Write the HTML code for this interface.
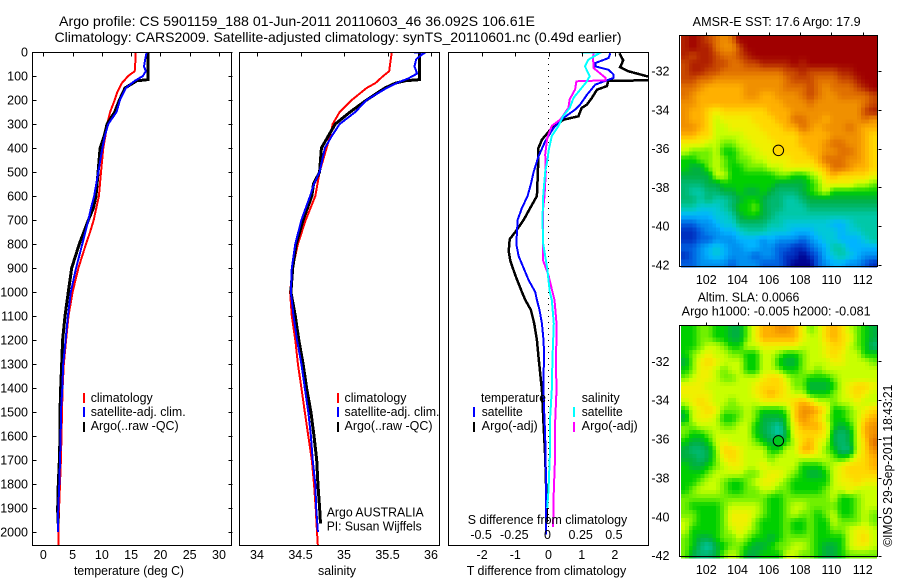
<!DOCTYPE html>
<html>
<head>
<meta charset="utf-8">
<title>Argo profile</title>
<style>
html,body{margin:0;padding:0;background:#fff;width:900px;height:580px;overflow:hidden}
svg{display:block}
text{font-family:"Liberation Sans",sans-serif;font-size:12.5px;fill:#000}
.t{font-size:14px}
</style>
</head>
<body>
<svg id="fig" xmlns="http://www.w3.org/2000/svg" width="900" height="580" viewBox="0 0 900 580">
<defs>
<clipPath id="c1"><rect x="32" y="52" width="200" height="494"/></clipPath>
<clipPath id="c2"><rect x="239" y="52" width="201" height="494"/></clipPath>
<clipPath id="c3"><rect x="448" y="52" width="201" height="494"/></clipPath>
</defs>
<text class="t" x="59" y="26" textLength="476" lengthAdjust="spacingAndGlyphs">Argo profile: CS 5901159_188 01-Jun-2011 20110603_46 36.092S 106.61E</text>
<text class="t" x="54.5" y="42" textLength="567" lengthAdjust="spacingAndGlyphs">Climatology: CARS2009. Satellite-adjusted climatology: synTS_20110601.nc (0.49d earlier)</text>
<g id="layerMaps"></g>
<g id="layerLines"></g>
<g id="layerAxes"></g>

<text x="74" y="575" textLength="110" lengthAdjust="spacingAndGlyphs">temperature (deg C)</text>
<text x="318" y="575" textLength="38" lengthAdjust="spacingAndGlyphs">salinity</text>
<text x="466.7" y="575" textLength="159.5" lengthAdjust="spacingAndGlyphs">T difference from climatology</text>
<text x="467.7" y="524" textLength="159.5" lengthAdjust="spacingAndGlyphs">S difference from climatology</text>

<g>
<rect x="83" y="393" width="2" height="10" fill="#f00"/>
<rect x="83" y="407" width="2" height="10" fill="#00f"/>
<rect x="83" y="422" width="2" height="10" fill="#000"/>
<text x="90.7" y="402" textLength="62" lengthAdjust="spacingAndGlyphs">climatology</text>
<text x="90.7" y="416" textLength="95" lengthAdjust="spacingAndGlyphs">satellite-adj. clim.</text>
<text x="90.7" y="430" textLength="88" lengthAdjust="spacingAndGlyphs">Argo(..raw -QC)</text>
</g>
<g>
<rect x="337" y="393" width="2" height="10" fill="#f00"/>
<rect x="337" y="407" width="2" height="10" fill="#00f"/>
<rect x="337" y="422" width="2" height="10" fill="#000"/>
<text x="344.5" y="402" textLength="62" lengthAdjust="spacingAndGlyphs">climatology</text>
<text x="344.5" y="416" textLength="95" lengthAdjust="spacingAndGlyphs">satellite-adj. clim.</text>
<text x="344.5" y="430" textLength="88" lengthAdjust="spacingAndGlyphs">Argo(..raw -QC)</text>
<text x="326.7" y="516.7" textLength="97" lengthAdjust="spacingAndGlyphs">Argo AUSTRALIA</text>
<text x="326.7" y="530.7" textLength="95" lengthAdjust="spacingAndGlyphs">PI: Susan Wijffels</text>
</g>
<g>
<text x="481" y="402" textLength="65" lengthAdjust="spacingAndGlyphs">temperature</text>
<rect x="473" y="407" width="2" height="10" fill="#00f"/>
<rect x="473" y="422" width="2" height="10" fill="#000"/>
<text x="481.7" y="416" textLength="41" lengthAdjust="spacingAndGlyphs">satellite</text>
<text x="481.7" y="430" textLength="56" lengthAdjust="spacingAndGlyphs">Argo(-adj)</text>
<text x="581.7" y="402" textLength="38" lengthAdjust="spacingAndGlyphs">salinity</text>
<rect x="573" y="407" width="2" height="10" fill="#0ff"/>
<rect x="573" y="422" width="2" height="10" fill="#f0f"/>
<text x="581.7" y="416" textLength="41" lengthAdjust="spacingAndGlyphs">satellite</text>
<text x="581.7" y="430" textLength="56" lengthAdjust="spacingAndGlyphs">Argo(-adj)</text>
</g>

<text x="692.7" y="26" textLength="168" lengthAdjust="spacingAndGlyphs">AMSR-E SST: 17.6 Argo: 17.9</text>
<text x="697.7" y="301.7" textLength="101.6" lengthAdjust="spacingAndGlyphs">Altim. SLA: 0.0066</text>
<text x="681.7" y="315.7" textLength="189" lengthAdjust="spacingAndGlyphs">Argo h1000: -0.005 h2000: -0.081</text>
<text transform="translate(892,546.7) rotate(-90)" textLength="162" lengthAdjust="spacingAndGlyphs">©IMOS 29-Sep-2011 18:43:21</text>
</svg>

<script>
// ---- axis tick values ----
var depthTicks = [0,100,200,300,400,500,600,700,800,900,1000,1100,1200,1300,1400,1500,1600,1700,1800,1900,2000];
var tempTicks = [0,5,10,15,20,25,30];
var salTicks = [34,34.5,35,35.5,36];
var salTickLabels = ["34","34.5","35","35.5","36"];
var dTTicks = [-2,-1,0,1,2];
var dTTickLabels = ["-2","-1","0","1","2"];
var dSTicks = [-0.5,-0.25,0,0.25,0.5];
var dSTickLabels = ["-0.5","-0.25","0","0.25","0.5"];
var lonTicks = [102,104,106,108,110,112];
var latTicks = [-32,-34,-36,-38,-40,-42];

// ---- temperature profiles ----
var tClimDepth = [0,50,80,100,130,170,200,250,300,350,400,500,600,700,750,800,900,1000,1100,1200,1300,1400,1500,1600,1700,1800,1900,2000,2060];
var tClimValue = [15.8,15.7,15.6,14.5,13.4,12.6,12.2,11.4,10.9,10.6,10.25,9.85,9.5,8.6,8,7.3,6,5,4.3,3.9,3.5,3.3,3.2,3.1,3.0,2.85,2.7,2.56,2.56];
var tArgoDepth = [0,115,120,150,200,250,300,350,400,500,600,650,700,800,900,1000,1100,1200,1300,1400,1500,1600,1700,1800,1900,1965];
var tArgoValue = [17.9,17.9,15.95,13.95,13,12.2,10.9,10.4,9.7,9.35,9.0,8.55,7.7,6.15,4.85,4.27,3.7,3.3,3.14,2.97,2.85,2.85,2.75,2.56,2.46,2.5];
var tSatDepth = [0,30,60,80,100,120,150,200,250,300,350,400,500,600,650,700,800,900,1000,1100,1200,1300,1400,1500,1600,1700,1800,1900,2000];
var tSatValue = [17.65,17.4,17.2,17.5,17,15.65,14.1,13.1,12.5,11.1,10.5,10.1,9.4,8.7,8.15,7.7,6.66,5.6,4.7,4.2,3.8,3.4,3.25,3.0,2.97,2.85,2.73,2.56,2.5];

// ---- salinity profiles ----
var sClimDepth = [0,50,80,100,130,150,200,250,300,350,400,500,600,700,800,900,1000,1100,1200,1300,1400,1500,1600,1700,1800,1900,2000,2060];
var sClimValue = [35.55,35.53,35.52,35.45,35.36,35.26,35.09,34.95,34.87,34.84,34.80,34.72,34.67,34.56,34.47,34.41,34.38,34.40,34.44,34.47,34.51,34.55,34.59,34.63,34.655,34.675,34.69,34.70];
var sArgoDepth = [0,115,120,130,150,200,250,300,350,400,500,550,600,700,800,900,1000,1100,1200,1300,1400,1500,1600,1700,1800,1900,1965];
var sArgoValue = [35.87,35.87,35.70,35.59,35.47,35.26,35.07,34.90,34.82,34.74,34.72,34.65,34.63,34.53,34.45,34.41,34.39,34.44,34.48,34.53,34.57,34.62,34.655,34.686,34.70,34.72,34.73];
var sSatDepth = [0,3,10,30,60,90,110,130,150,200,250,300,350,400,500,550,600,700,800,900,1000,1100,1200,1300,1400,1500,1600,1700,1800,1900,2000];
var sSatValue = [35.73,35.93,35.9,35.83,35.81,35.84,35.74,35.6,35.49,35.26,35.13,34.95,34.86,34.78,34.72,34.655,34.61,34.51,34.44,34.40,34.39,34.42,34.46,34.51,34.55,34.59,34.62,34.64,34.67,34.68,34.70];

// ---- difference profiles (T in deg C, S in psu) ----
var dTArgoDepth = [5,35,63,80,101,105,117,120,142,157,192,220,233,268,282,317,365,400,500,600,650,700,750,780,830,870,930,1000,1033,1075,1131,1200,1270,1339,1408,1547,1686,1825,1960];
var dTArgoValue = [2.14,2.25,2.16,2.4,2.96,3.6,3.6,1.8,1.76,1.46,1.3,1.15,1.0,0.9,0.45,0.1,-0.2,-0.3,-0.32,-0.35,-0.55,-0.75,-1.0,-1.17,-1.2,-1.15,-1.0,-0.8,-0.7,-0.53,-0.43,-0.35,-0.3,-0.25,-0.2,-0.15,-0.1,-0.07,-0.05];
var dTSatDepth = [5,25,46,60,74,94,108,136,178,220,240,275,317,372,435,500,550,600,650,700,750,800,850,900,950,1000,1033,1075,1130,1200,1270,1340,1410,1500,1600,1700,1800,1900,2010];
var dTSatValue = [1.86,1.81,1.41,1.41,1.81,1.96,1.96,1.41,1.16,0.95,0.8,0.45,0.15,-0.1,-0.3,-0.45,-0.53,-0.63,-0.8,-0.93,-0.95,-0.97,-0.9,-0.75,-0.6,-0.4,-0.35,-0.27,-0.2,-0.15,-0.13,-0.15,-0.15,-0.13,-0.1,-0.09,-0.07,-0.07,-0.08];
var dSArgoDepth = [0,25,67,108,118,122,156,197,233,281,308,358,427,500,600,650,700,800,870,930,1000,1033,1131,1200,1270,1408,1547,1686,1825,1980];
var dSArgoValue = [0.34,0.335,0.34,0.43,0.43,0.21,0.2,0.16,0.15,0.09,0.025,-0.01,-0.025,-0.02,-0.03,-0.04,-0.04,-0.04,-0.04,0,0.03,0.045,0.06,0.06,0.055,0.06,0.05,0.05,0.04,0.035];
var dSSatDepth = [0,3,32,60,101,122,156,190,233,267,308,350,413,440,500,600,700,800,900,1000,1033,1131,1270,1408,1547,1686,1825,1900];
var dSSatValue = [0.16,0.39,0.3,0.275,0.31,0.29,0.24,0.19,0.16,0.11,0.075,0.025,0,-0.005,-0.025,-0.04,-0.045,-0.04,-0.01,0.01,0.025,0.04,0.03,0.025,0.01,0.01,0,-0.01];

// ---- map point ----
var argoLon = 106.61;
var argoLat = -36.092;

// ---- map colour levels, one row per latitude band, north to south ----
var sstGrid = [
[18,19,18,17,16,15,16,19,19,19,19,19,19,19,19,19,19,19,19,19,19,19,19,19,19],
[18,19,18,18,16,15,15,17,19,19,19,19,19,19,19,19,19,19,19,19,19,19,19,19,19],
[18,17,18,18,17,16,16,17,18,19,19,19,19,19,19,19,19,19,19,19,19,19,19,19,19],
[17,18,18,18,17,17,16,16,17,17,18,18,18,18,19,18,19,19,19,19,19,19,19,19,19],
[17,18,18,17,17,16,16,16,16,16,16,16,16,17,17,18,17,17,17,17,18,18,19,19,19],
[17,17,16,16,15,15,15,15,15,15,15,15,15,16,17,17,17,16,16,16,17,17,18,19,19],
[16,16,15,14,14,14,14,14,15,15,15,15,15,16,16,16,17,16,15,16,16,16,17,18,19],
[16,15,14,14,14,14,14,14,15,15,14,14,15,15,15,16,17,16,15,15,16,16,16,16,17],
[15,15,14,14,14,14,14,14,14,14,14,14,14,15,15,15,16,15,15,15,15,15,15,16,17],
[15,14,14,13,12,13,13,13,13,13,13,14,14,14,15,15,15,15,15,15,15,15,15,17,18],
[15,14,14,13,11,12,12,12,12,13,13,13,14,14,16,16,15,15,14,15,15,15,15,16,15],
[15,15,14,13,11,11,12,12,12,12,13,13,13,14,14,16,15,14,15,15,15,16,15,14,14],
[14,14,13,13,11,11,11,11,12,12,12,13,13,13,13,14,14,14,14,15,15,15,15,14,13],
[12,12,12,11,11,10,10,11,11,12,12,12,13,13,13,14,14,14,15,16,16,15,15,14,13],
[11,10,10,10,11,9,9,10,11,11,12,12,13,13,13,13,14,14,15,15,16,16,15,14,13],
[9,9,10,10,11,10,9,10,10,11,11,12,12,12,13,13,13,14,16,16,16,15,15,14,13],
[9,8,8,10,11,10,9,9,10,10,10,11,11,12,12,12,12,13,14,16,16,15,14,14,13],
[8,8,8,8,11,11,9,9,9,9,9,9,10,10,9,9,10,11,13,14,13,13,13,13,12],
[7,7,7,8,8,9,9,9,9,9,9,9,8,8,8,8,9,10,12,12,12,12,11,11,10],
[7,6,6,7,7,8,8,9,8,8,9,8,7,7,7,8,9,10,11,9,9,9,9,9,9],
[7,7,6,7,6,6,7,8,9,9,8,7,7,6,6,7,8,8,8,8,8,8,8,8,8],
[6,6,5,5,5,6,7,9,9,10,8,7,7,6,6,6,7,7,7,7,7,7,7,7,7],
[4,4,4,4,5,5,6,8,9,9,8,7,6,6,6,6,6,6,6,6,6,6,6,6,6],
[2,2,3,3,4,5,5,7,7,7,7,6,6,5,5,5,5,5,5,4,4,5,6,6,6],
[1,1,2,3,3,4,4,5,6,6,6,5,5,5,4,4,4,5,5,5,4,5,5,6,6],
[1,1,2,2,3,3,3,4,4,4,3,4,3,3,3,2,3,4,5,5,4,4,4,5,6],
[2,2,3,4,5,4,3,3,4,4,3,3,2,2,1,1,2,3,4,6,6,4,4,4,4],
[1,2,3,4,5,4,3,3,3,2,3,3,2,1,1,0,1,2,4,5,6,5,4,3,3],
[2,2,3,3,3,3,2,3,3,3,2,2,2,1,0,0,0,2,3,4,4,3,3,2,1]
];
var slaGrid = [
[9,9,10,10,9,9,8,8,10,12,14,14,15,15,14,12,10,11,13,14,13,11,10,9,8],
[9,9,10,10,9,9,8,8,10,12,14,14,14,14,14,12,11,11,13,14,13,12,10,9,8],
[9,9,10,11,11,10,9,9,11,11,12,12,12,12,12,11,11,11,12,13,13,11,10,9,7],
[9,10,11,12,11,11,10,10,9,9,11,11,10,9,9,10,11,11,12,13,12,11,11,9,9],
[8,10,12,13,12,11,11,11,9,9,11,11,9,8,8,10,11,11,11,12,12,11,11,11,10],
[9,10,12,12,11,10,11,11,9,9,11,11,10,9,9,10,11,10,11,11,11,11,11,11,11],
[10,11,12,12,11,10,10,11,11,11,12,13,13,11,10,10,9,9,9,10,11,11,11,11,11],
[12,12,12,11,11,11,11,11,11,12,13,13,13,12,10,10,8,8,8,9,11,12,13,13,12],
[12,12,12,12,11,11,11,11,11,12,13,14,13,12,11,11,9,9,9,10,11,12,13,12,11],
[11,12,13,12,11,11,10,11,11,11,12,12,12,12,13,14,13,11,11,10,11,11,12,11,11],
[9,11,12,13,12,10,10,10,11,10,9,9,9,10,13,15,15,14,12,9,9,10,11,12,13],
[8,11,12,12,11,9,9,10,11,10,8,8,8,9,13,15,14,13,11,9,9,10,11,13,14],
[10,10,11,11,11,10,10,11,11,9,8,7,6,9,12,14,14,14,12,9,8,9,11,14,15],
[10,9,9,10,11,11,11,11,11,9,8,7,6,8,12,13,13,13,12,8,7,8,11,14,15],
[9,8,8,9,11,12,11,11,11,10,9,8,8,9,11,13,14,12,11,8,7,8,11,13,16],
[8,7,7,8,10,13,13,12,11,11,11,9,9,11,11,14,14,12,10,9,7,7,11,13,15],
[8,8,7,8,10,12,13,12,11,11,11,10,11,11,11,11,11,11,11,10,9,10,12,13,14],
[9,8,8,9,10,11,12,12,11,11,12,11,11,11,11,9,9,9,10,11,12,13,13,13,14],
[9,9,9,10,11,11,11,11,10,10,11,12,12,11,10,9,8,8,9,11,12,13,13,13,13],
[9,9,10,11,11,10,9,9,10,11,12,12,11,10,9,9,9,9,9,11,12,12,13,12,12],
[9,10,11,11,11,10,9,9,10,10,11,11,10,10,9,9,9,9,10,11,11,12,11,11,11],
[10,10,10,10,10,10,10,10,10,10,10,9,9,10,10,10,10,10,10,11,9,9,10,11,11],
[10,9,9,9,9,10,11,11,11,11,10,9,9,10,11,11,10,10,10,10,9,9,10,11,11],
[10,10,9,9,9,10,12,12,12,11,10,9,9,10,11,10,10,9,10,11,9,9,10,11,10],
[11,10,9,9,9,10,12,12,12,10,9,9,9,10,9,9,10,9,9,11,10,10,10,11,10],
[11,9,9,9,9,10,11,12,11,10,9,9,9,10,9,9,10,9,9,10,10,11,12,12,11],
[10,9,8,8,9,10,10,11,10,9,9,8,9,10,10,10,10,9,9,9,9,11,12,13,11],
[10,9,7,6,8,9,10,10,9,8,8,9,10,10,11,11,10,9,8,8,9,11,12,12,11],
[10,8,7,7,8,10,11,10,8,8,9,9,9,11,11,10,10,9,8,8,9,10,10,10,10]
];

var palette = [[0,0,143],[0,48,192],[0,96,224],[0,144,240],[0,180,255],[0,200,216],[0,200,168],[0,184,112],[0,176,64],[0,208,0],[112,240,0],[200,255,0],[240,240,0],[255,216,0],[255,176,0],[240,144,0],[224,112,0],[200,72,0],[176,32,0],[160,0,0]];

var NS = "http://www.w3.org/2000/svg";
var layerMaps = document.getElementById("layerMaps");
var layerLines = document.getElementById("layerLines");
var layerAxes = document.getElementById("layerAxes");

function mk(tag, attrs, parent) {
  var el = document.createElementNS(NS, tag);
  for (var k in attrs) { el.setAttribute(k, attrs[k]); }
  parent.appendChild(el);
  return el;
}
function yDepth(d) { return 52 + d * 0.24; }
function xTemp(t) { return 43.3 + t * 5.856; }
function xSal(s) { return 257 + (s - 34) * 87; }
function xDT(t) { return 548.5 + t * 33.2; }
function xDS(s) { return 548.5 + s * 132.8; }
function xLon(lon) { return 706.3 + (lon - 102) * 15.64; }
function ySst(lat) { return 71 + (-32 - lat) * 19.4; }
function ySla(lat) { return 361.3 + (-32 - lat) * 19.44; }

function drawProfile(name, depths, values, xFn, color, width, clip) {
  var pts = [];
  for (var i = 0; i < depths.length; i++) {
    pts.push(xFn(values[i]).toFixed(1) + "," + yDepth(depths[i]).toFixed(1));
  }
  var el = mk("polyline", {points: pts.join(" "), fill: "none", stroke: color, "stroke-width": width, "stroke-linejoin": "miter", "shape-rendering": "crispEdges", "clip-path": "url(#" + clip + ")"}, layerLines);
  
  
}

// Profiles
drawProfile("temperature-climatology-line", tClimDepth, tClimValue, xTemp, "#f00", 2, "c1");
drawProfile("temperature-argo-line", tArgoDepth, tArgoValue, xTemp, "#000", 3, "c1");
drawProfile("temperature-satellite-line", tSatDepth, tSatValue, xTemp, "#00f", 2, "c1");
drawProfile("salinity-climatology-line", sClimDepth, sClimValue, xSal, "#f00", 2, "c2");
drawProfile("salinity-argo-line", sArgoDepth, sArgoValue, xSal, "#000", 3, "c2");
drawProfile("salinity-satellite-line", sSatDepth, sSatValue, xSal, "#00f", 2, "c2");

var zeroLine = mk("line", {x1: 548.5, x2: 548.5, y1: yDepth(0), y2: yDepth(2000), stroke: "#000", "stroke-width": 1, "stroke-dasharray": "1 5"}, layerLines);



drawProfile("t-difference-argo-line", dTArgoDepth, dTArgoValue, xDT, "#000", 2.5, "c3");
drawProfile("t-difference-satellite-line", dTSatDepth, dTSatValue, xDT, "#00f", 2, "c3");
drawProfile("s-difference-argo-line", dSArgoDepth, dSArgoValue, xDS, "#f0f", 2, "c3");
drawProfile("s-difference-satellite-line", dSSatDepth, dSSatValue, xDS, "#0ff", 2, "c3");

// Panel frames
function frame(name, x, y, w, h) {
  var el = mk("rect", {x: x, y: y, width: w, height: h, fill: "none", stroke: "#000", "stroke-width": 1, "shape-rendering": "crispEdges"}, layerAxes);
  
  
}
frame("temperature-panel-frame", 32.5, 52.5, 199, 493);
frame("salinity-panel-frame", 239.5, 52.5, 200, 493);
frame("difference-panel-frame", 448.5, 52.5, 200, 493);
frame("sst-map-frame", 679.5, 35.5, 198, 231);
frame("sla-map-frame", 679.5, 325.5, 198, 231);

function tick(name, x1, y1, x2, y2) {
  var el = mk("line", {x1: Math.round(x1) + 0.5, y1: Math.round(y1) + 0.5, x2: Math.round(x2) + 0.5, y2: Math.round(y2) + 0.5, stroke: "#000", "stroke-width": 1, "shape-rendering": "crispEdges"}, layerAxes);
  
  
}
function label(name, txt, x, y, anchor) {
  var el = mk("text", {x: x, y: y, "text-anchor": anchor}, layerAxes);
  el.textContent = txt;
  
  
}

// Depth axis
depthTicks.forEach(function (d) {
  var y = yDepth(d);
  tick("depth-tick-left", 32, y, 36, y);
  tick("depth-tick-right", 228, y, 232, y);
  label("depth-tick-label", String(d), 28, y + 4.5, "end");
});
// Temperature axis
tempTicks.forEach(function (t) {
  tick("temperature-tick", xTemp(t), 52, xTemp(t), 56);
  label("temperature-tick-label", String(t), xTemp(t), 559, "middle");
});
// Salinity axis
salTicks.forEach(function (s, i) {
  tick("salinity-tick", xSal(s), 52, xSal(s), 56);
  label("salinity-tick-label", salTickLabels[i], xSal(s), 559, "middle");
});
// Difference axes
dTTicks.forEach(function (t, i) {
  tick("t-difference-tick", xDT(t), 52, xDT(t), 56);
  label("t-difference-tick-label", dTTickLabels[i], xDT(t), 559, "middle");
});
dSTicks.forEach(function (s, i) {
  label("s-difference-tick-label", dSTickLabels[i], xDS(s) - 1, 539, "middle");
});

// Maps: each grid cell is drawn as smoothly shaded sub-cells
var gridLon0 = 100.38;
var gridLonStep = 12.52 / 25;
var gridLatTop = -30.17;
var gridLatStep = 11.95 / 29;
var subCells = 2;

function levelColor(level) {
  var i = Math.min(Math.floor(level), palette.length - 2);
  var f = level - i;
  var a = palette[i];
  var b = palette[i + 1];
  return "rgb(" + Math.round(a[0] + (b[0] - a[0]) * f) + "," + Math.round(a[1] + (b[1] - a[1]) * f) + "," + Math.round(a[2] + (b[2] - a[2]) * f) + ")";
}
function sampleGrid(grid, r, c) {
  var rows = grid.length;
  var cols = grid[0].length;
  var rr = Math.max(0, Math.min(rows - 1, r));
  var cc = Math.max(0, Math.min(cols - 1, c));
  var r0 = Math.floor(rr);
  var c0 = Math.floor(cc);
  var r1 = Math.min(rows - 1, r0 + 1);
  var c1 = Math.min(cols - 1, c0 + 1);
  var fr = rr - r0;
  var fc = cc - c0;
  return (grid[r0][c0] * (1 - fc) + grid[r0][c1] * fc) * (1 - fr) + (grid[r1][c0] * (1 - fc) + grid[r1][c1] * fc) * fr;
}
function drawMap(name, grid, yFn) {
  var g = document.createDocumentFragment();
  var nr = grid.length * subCells;
  var nc = grid[0].length * subCells;
  for (var r = 0; r < nr; r++) {
    for (var c = 0; c < nc; c++) {
      var gr = (r + 0.5) / subCells - 0.5;
      var gc = (c + 0.5) / subCells - 0.5;
      var x0 = xLon(gridLon0 + c * gridLonStep / subCells);
      var x1 = xLon(gridLon0 + (c + 1) * gridLonStep / subCells);
      var y0 = yFn(gridLatTop - r * gridLatStep / subCells);
      var y1 = yFn(gridLatTop - (r + 1) * gridLatStep / subCells);
      var el = mk("rect", {x: x0.toFixed(2), y: y0.toFixed(2), width: (x1 - x0 + 0.4).toFixed(2), height: (y1 - y0 + 0.4).toFixed(2), fill: levelColor(sampleGrid(grid, gr, gc)), "shape-rendering": "crispEdges"}, g);
      
      
    }
  }
  layerMaps.appendChild(g);
}
drawMap("sst-cell", sstGrid, ySst);
drawMap("sla-cell", slaGrid, ySla);

function drawMapAxes(prefix, yFn, top, labelBase) {
  lonTicks.forEach(function (lon) {
    tick(prefix + "-lon-tick", xLon(lon), top - 3, xLon(lon), top);
    label(prefix + "-lon-label", String(lon), xLon(lon), labelBase, "middle");
  });
  latTicks.forEach(function (lat) {
    tick(prefix + "-lat-tick", 878, yFn(lat), 881, yFn(lat));
    label(prefix + "-lat-label", String(lat), 669.5, yFn(lat) + 4.5, "end");
  });
}
drawMapAxes("sst", ySst, 35, 284);
drawMapAxes("sla", ySla, 325, 574);

var sstMarker = mk("circle", {cx: xLon(argoLon), cy: ySst(argoLat), r: 5.2, fill: "#ffd800", stroke: "#000", "stroke-width": 1}, layerAxes);


var slaMarker = mk("circle", {cx: xLon(argoLon), cy: ySla(argoLat), r: 5.2, fill: "#00c820", stroke: "#000", "stroke-width": 1}, layerAxes);


</script>
</body>
</html>
